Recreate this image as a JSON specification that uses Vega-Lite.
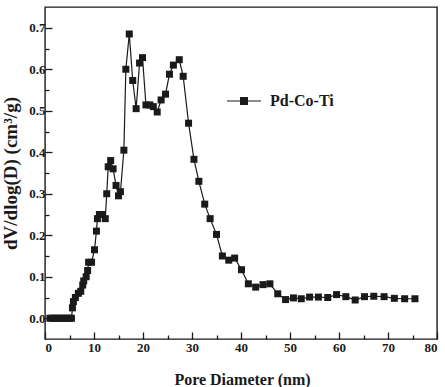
{
  "$schema": "https://vega.github.io/schema/vega-lite/v6.json",
  "width": 392,
  "height": 332,
  "autosize": "none",
  "padding": {"left": 45, "top": 7, "right": 8, "bottom": 48},
  "background": "white",
  "config": {
    "view": {"stroke": "#1a1a1a", "strokeWidth": 1.4},
    "font": "Liberation Serif",
    "axis": {"grid": false, "domain": false, "tickColor": "#1a1a1a", "tickWidth": 1.3, "labelFont": "Liberation Serif", "labelFontWeight": "bold", "labelFontSize": 13, "labelColor": "#1a1a1a", "titleFont": "Liberation Serif", "titleFontWeight": "bold", "titleFontSize": 16, "titleColor": "#1a1a1a"}
  },
  "data": {"values": [
    {"d": 1.0, "v": 0.0, "series": "Pd-Co-Ti"},
    {"d": 1.5, "v": 0.0, "series": "Pd-Co-Ti"},
    {"d": 2.0, "v": 0.0, "series": "Pd-Co-Ti"},
    {"d": 2.5, "v": 0.0, "series": "Pd-Co-Ti"},
    {"d": 3.0, "v": 0.0, "series": "Pd-Co-Ti"},
    {"d": 3.5, "v": 0.0, "series": "Pd-Co-Ti"},
    {"d": 4.0, "v": 0.0, "series": "Pd-Co-Ti"},
    {"d": 4.5, "v": 0.0, "series": "Pd-Co-Ti"},
    {"d": 5.0, "v": 0.0, "series": "Pd-Co-Ti"},
    {"d": 5.4, "v": 0.0, "series": "Pd-Co-Ti"},
    {"d": 5.6, "v": 0.025, "series": "Pd-Co-Ti"},
    {"d": 5.8, "v": 0.04, "series": "Pd-Co-Ti"},
    {"d": 6.2, "v": 0.05, "series": "Pd-Co-Ti"},
    {"d": 6.8, "v": 0.06, "series": "Pd-Co-Ti"},
    {"d": 7.3, "v": 0.065, "series": "Pd-Co-Ti"},
    {"d": 7.7, "v": 0.08, "series": "Pd-Co-Ti"},
    {"d": 7.9, "v": 0.09, "series": "Pd-Co-Ti"},
    {"d": 8.4, "v": 0.1, "series": "Pd-Co-Ti"},
    {"d": 8.7, "v": 0.115, "series": "Pd-Co-Ti"},
    {"d": 8.9, "v": 0.135, "series": "Pd-Co-Ti"},
    {"d": 9.5, "v": 0.135, "series": "Pd-Co-Ti"},
    {"d": 10.1, "v": 0.165, "series": "Pd-Co-Ti"},
    {"d": 10.5, "v": 0.21, "series": "Pd-Co-Ti"},
    {"d": 10.7, "v": 0.24, "series": "Pd-Co-Ti"},
    {"d": 11.1, "v": 0.25, "series": "Pd-Co-Ti"},
    {"d": 11.6, "v": 0.25, "series": "Pd-Co-Ti"},
    {"d": 12.3, "v": 0.24, "series": "Pd-Co-Ti"},
    {"d": 12.6, "v": 0.3, "series": "Pd-Co-Ti"},
    {"d": 12.9, "v": 0.365, "series": "Pd-Co-Ti"},
    {"d": 13.4, "v": 0.38, "series": "Pd-Co-Ti"},
    {"d": 13.9, "v": 0.36, "series": "Pd-Co-Ti"},
    {"d": 14.5, "v": 0.32, "series": "Pd-Co-Ti"},
    {"d": 15.0, "v": 0.295, "series": "Pd-Co-Ti"},
    {"d": 15.4, "v": 0.305, "series": "Pd-Co-Ti"},
    {"d": 16.1, "v": 0.405, "series": "Pd-Co-Ti"},
    {"d": 16.5, "v": 0.6, "series": "Pd-Co-Ti"},
    {"d": 17.2, "v": 0.685, "series": "Pd-Co-Ti"},
    {"d": 17.9, "v": 0.573, "series": "Pd-Co-Ti"},
    {"d": 18.6, "v": 0.505, "series": "Pd-Co-Ti"},
    {"d": 19.3, "v": 0.615, "series": "Pd-Co-Ti"},
    {"d": 19.9, "v": 0.628, "series": "Pd-Co-Ti"},
    {"d": 20.6, "v": 0.514, "series": "Pd-Co-Ti"},
    {"d": 21.4, "v": 0.514, "series": "Pd-Co-Ti"},
    {"d": 22.1, "v": 0.51, "series": "Pd-Co-Ti"},
    {"d": 22.9, "v": 0.497, "series": "Pd-Co-Ti"},
    {"d": 23.7, "v": 0.526, "series": "Pd-Co-Ti"},
    {"d": 24.6, "v": 0.54, "series": "Pd-Co-Ti"},
    {"d": 25.4, "v": 0.588, "series": "Pd-Co-Ti"},
    {"d": 26.2, "v": 0.61, "series": "Pd-Co-Ti"},
    {"d": 27.4, "v": 0.623, "series": "Pd-Co-Ti"},
    {"d": 28.2, "v": 0.583, "series": "Pd-Co-Ti"},
    {"d": 29.3, "v": 0.47, "series": "Pd-Co-Ti"},
    {"d": 30.4, "v": 0.383, "series": "Pd-Co-Ti"},
    {"d": 31.4, "v": 0.33, "series": "Pd-Co-Ti"},
    {"d": 32.6, "v": 0.275, "series": "Pd-Co-Ti"},
    {"d": 33.7, "v": 0.24, "series": "Pd-Co-Ti"},
    {"d": 35.0, "v": 0.202, "series": "Pd-Co-Ti"},
    {"d": 36.2, "v": 0.15, "series": "Pd-Co-Ti"},
    {"d": 37.5, "v": 0.14, "series": "Pd-Co-Ti"},
    {"d": 38.7, "v": 0.145, "series": "Pd-Co-Ti"},
    {"d": 40.1, "v": 0.117, "series": "Pd-Co-Ti"},
    {"d": 41.5, "v": 0.083, "series": "Pd-Co-Ti"},
    {"d": 43.0, "v": 0.075, "series": "Pd-Co-Ti"},
    {"d": 44.5, "v": 0.081, "series": "Pd-Co-Ti"},
    {"d": 45.9, "v": 0.083, "series": "Pd-Co-Ti"},
    {"d": 47.5, "v": 0.059, "series": "Pd-Co-Ti"},
    {"d": 49.1, "v": 0.045, "series": "Pd-Co-Ti"},
    {"d": 50.7, "v": 0.049, "series": "Pd-Co-Ti"},
    {"d": 52.3, "v": 0.047, "series": "Pd-Co-Ti"},
    {"d": 54.0, "v": 0.051, "series": "Pd-Co-Ti"},
    {"d": 55.8, "v": 0.051, "series": "Pd-Co-Ti"},
    {"d": 57.7, "v": 0.05, "series": "Pd-Co-Ti"},
    {"d": 59.5, "v": 0.057, "series": "Pd-Co-Ti"},
    {"d": 61.4, "v": 0.052, "series": "Pd-Co-Ti"},
    {"d": 63.3, "v": 0.044, "series": "Pd-Co-Ti"},
    {"d": 65.2, "v": 0.052, "series": "Pd-Co-Ti"},
    {"d": 67.1, "v": 0.053, "series": "Pd-Co-Ti"},
    {"d": 69.2, "v": 0.052, "series": "Pd-Co-Ti"},
    {"d": 71.3, "v": 0.048, "series": "Pd-Co-Ti"},
    {"d": 73.4, "v": 0.047, "series": "Pd-Co-Ti"},
    {"d": 75.5, "v": 0.047, "series": "Pd-Co-Ti"}
  ]},
  "resolve": {"axis": {"x": "independent", "y": "independent"}},
  "layer": [
    {
      "mark": {"type": "point", "opacity": 0},
      "encoding": {
        "x": {"field": "d", "type": "quantitative", "scale": {"domain": [0, 80], "nice": false, "zero": false},
              "axis": {"orient": "bottom", "values": [5, 15, 25, 35, 45, 55, 65, 75], "labels": false, "tickSize": -4, "title": null}},
        "y": {"field": "v", "type": "quantitative", "scale": {"domain": [-0.05, 0.75], "nice": false, "zero": false},
              "axis": {"orient": "left", "values": [0.05, 0.15, 0.25, 0.35, 0.45, 0.55, 0.65], "labels": false, "tickSize": -4, "title": null}}
      }
    },
    {
      "mark": {"type": "line", "strokeWidth": 1.2, "point": {"shape": "square", "size": 49, "filled": true, "opacity": 1}},
      "encoding": {
        "x": {"field": "d", "type": "quantitative",
              "axis": {"orient": "bottom", "values": [0, 10, 20, 30, 40, 50, 60, 70, 80], "tickSize": -7, "labelPadding": 9,
                       "labelFont": "Liberation Serif", "labelFontWeight": "bold", "labelFontSize": 13,
                       "title": "Pore Diameter (nm)", "titleFont": "Liberation Serif", "titleFontSize": 16, "titleX": 197, "titleY": 40, "titleBaseline": "middle"}},
        "y": {"field": "v", "type": "quantitative",
              "axis": {"orient": "left", "values": [0, 0.1, 0.2, 0.3, 0.4, 0.5, 0.6, 0.7], "format": ".1f", "tickSize": -7, "labelPadding": 7,
                       "labelFont": "Liberation Serif", "labelFontWeight": "bold", "labelFontSize": 13,
                       "title": "dV/dlog(D) (cm³/g)", "titleFont": "Liberation Serif", "titleFontSize": 19, "titleX": -35, "titleY": 166, "titleBaseline": "middle"}},
        "color": {"field": "series", "type": "nominal", "scale": {"range": ["#1a1a1a"]},
                  "legend": {"orient": "none", "legendX": 181, "legendY": 76, "title": null, "padding": 0,
                             "symbolType": "M-1,0H1M-0.2,-0.2H0.2V0.2H-0.2Z", "symbolSize": 1156, "symbolStrokeWidth": 1.2,
                             "symbolFillColor": "#1a1a1a", "symbolStrokeColor": "#1a1a1a",
                             "labelFont": "Liberation Serif", "labelFontWeight": "bold", "labelFontSize": 16, "labelColor": "#1a1a1a", "labelOffset": 8}}
      }
    }
  ]
}
